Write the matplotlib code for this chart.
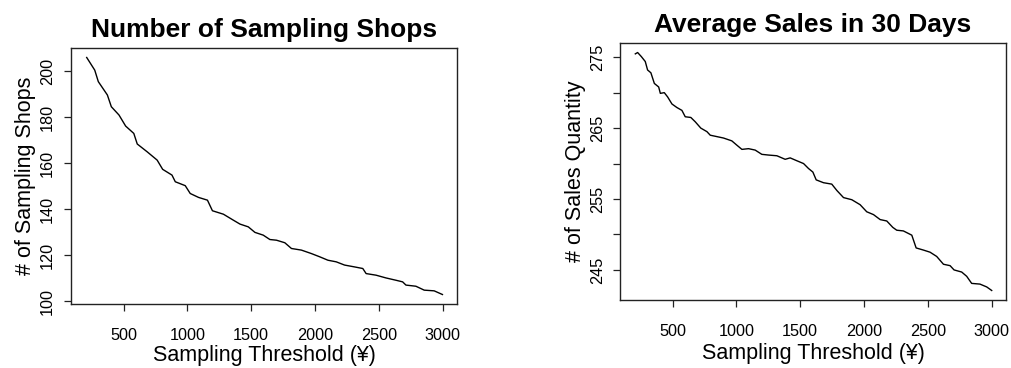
import matplotlib
matplotlib.use("Agg")
import matplotlib.pyplot as plt
from matplotlib.ticker import FixedLocator, FixedFormatter

plt.rcParams['font.family'] = ['Liberation Sans', 'DejaVu Sans']

# ---- data ----
shops_x = [211, 274, 302, 373, 404, 464, 516, 580, 607, 685, 763, 806, 879, 905,
           983, 1022, 1087, 1157, 1196, 1282, 1360, 1412, 1477, 1529, 1594, 1646,
           1698, 1763, 1815, 1893, 1971, 2036, 2101, 2166, 2231, 2309, 2374, 2400,
           2478, 2556, 2634, 2686, 2712, 2790, 2855, 2933, 2998]
shops_y = [205.9, 200.4, 195.4, 189.6, 184.5, 180.9, 176.1, 172.9, 168.3, 164.9,
           161.3, 157.3, 154.8, 151.9, 150.2, 146.8, 145.1, 143.9, 139.3, 137.8,
           135.2, 133.5, 132.3, 129.9, 128.7, 126.8, 126.5, 125.4, 122.9, 122.2,
           120.7, 119.3, 117.8, 117.1, 115.7, 114.9, 114.2, 112.0, 111.3, 110.1,
           109.1, 108.4, 107.0, 106.5, 104.8, 104.5, 102.9]

sales_x = [208, 226, 255, 286, 304, 330, 357, 391, 404, 435, 461, 495, 534, 573,
           599, 643, 677, 721, 769, 795, 847, 899, 964, 1003, 1043, 1095, 1147,
           1199, 1251, 1317, 1382, 1421, 1473, 1526, 1565, 1599, 1625, 1682, 1747,
           1787, 1839, 1904, 1969, 2021, 2074, 2126, 2178, 2225, 2256, 2308, 2374,
           2408, 2465, 2517, 2569, 2622, 2674, 2705, 2765, 2804, 2843, 2908, 2961,
           3000]
sales_y = [275.47, 275.66, 275.09, 274.39, 273.2, 272.8, 271.3, 270.8, 269.9,
           270.0, 269.4, 268.4, 267.9, 267.5, 266.6, 266.5, 265.9, 265.0, 264.5,
           264.0, 263.8, 263.6, 263.2, 262.6, 262.0, 262.1, 261.9, 261.3, 261.2,
           261.1, 260.6, 260.8, 260.4, 260.0, 259.3, 258.8, 257.7, 257.3, 257.1,
           256.2, 255.2, 254.9, 254.2, 253.2, 252.8, 252.1, 251.9, 251.0, 250.6,
           250.5, 249.9, 248.1, 247.8, 247.5, 246.9, 245.8, 245.6, 245.0, 244.7,
           244.1, 243.1, 243.0, 242.6, 242.1]

x_ticks = [500, 1000, 1500, 2000, 2500, 3000]
shops_yticks = [100, 120, 140, 160, 180, 200]
sales_yticks = [245, 250, 255, 260, 265, 270, 275]
sales_ylabels = ['245', '', '255', '', '265', '', '275']

titles = ['Number of Sampling Shops', 'Average Sales in 30 Days']
ylabels = ['# of Sampling Shops', '# of Sales Quantity']
xlabel = 'Sampling Threshold (\u00a5)'

W, H = 1011, 368
fig = plt.figure(figsize=(W / 100, H / 100), dpi=100)

def px_axes(l, t, r, b):
    return fig.add_axes([l / W, (H - b) / H, (r - l) / W, (b - t) / H])

ax1 = px_axes(71, 48, 457, 304)
ax2 = px_axes(620, 43, 1006, 300)

def r_range(vals):
    lo, hi = min(vals), max(vals)
    d = (hi - lo) * 0.04
    return lo - d, hi + d

def style(ax, x, y, yticks, ylabs, title, ylabel, ylabel_off, ytick_pad, xlabel_off, h):
    ax.plot(x, y, color='black', lw=1.0)
    ax.set_xlim(*r_range([200, 3000]))
    ax.set_ylim(*r_range(y))
    ax.xaxis.set_major_locator(FixedLocator(x_ticks))
    ax.yaxis.set_major_locator(FixedLocator(yticks))
    if ylabs is not None:
        ax.yaxis.set_major_formatter(FixedFormatter(ylabs))
    for s in ax.spines.values():
        s.set_linewidth(1.0)
        s.set_color('#222222')
    ax.tick_params(axis='both', direction='out', length=5, width=0.9,
                   labelsize=11.7, color='#222222')
    ax.tick_params(axis='x', pad=12)
    ax.tick_params(axis='y', pad=ytick_pad)
    for lab in ax.get_yticklabels():
        lab.set_rotation(90)
        lab.set_va('center')
    ax.set_title(title, fontsize=19, fontweight='bold', pad=8)
    ax.set_xlabel(xlabel, fontsize=15.5)
    ax.xaxis.label.set_va('center')
    ax.xaxis.set_label_coords(0.5, -xlabel_off / h)
    ax.set_ylabel(ylabel, fontsize=15.5)
    ax.yaxis.label.set_va('center')
    ax.yaxis.set_label_coords(-ylabel_off / 386, 0.5)

style(ax1, shops_x, shops_y, shops_yticks, None, titles[0], ylabels[0], 45, 6.5, 52, 256)
style(ax2, sales_x, sales_y, sales_yticks, sales_ylabels, titles[1], ylabels[1], 45, 5.5, 54, 257)

fig.savefig('out.png', dpi=100)
